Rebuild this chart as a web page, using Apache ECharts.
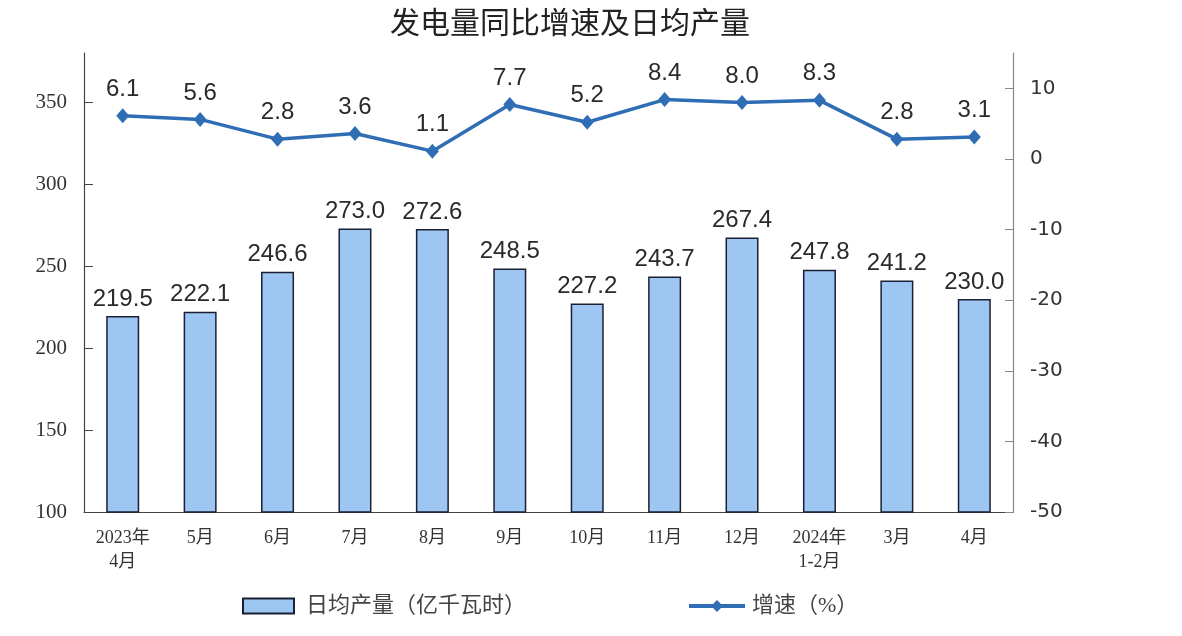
<!DOCTYPE html>
<html>
<head>
<meta charset="utf-8">
<script src="https://cdn.jsdelivr.net/npm/echarts@6/dist/echarts.min.js"></script>
<style>
html,body{margin:0;padding:0;background:#fff;}
#chart{width:1182px;height:636px;}
</style>
</head>
<body>
<div id="chart"></div>
<script>
const categories = ['2023年\n4月','5月','6月','7月','8月','9月','10月','11月','12月','2024年\n1-2月','3月','4月'];
const dailyOutput = [219.5, 222.1, 246.6, 273.0, 272.6, 248.5, 227.2, 243.7, 267.4, 247.8, 241.2, 230.0];
const growthRate = [6.1, 5.6, 2.8, 3.6, 1.1, 7.7, 5.2, 8.4, 8.0, 8.3, 2.8, 3.1];
const leftTicks = [100, 150, 200, 250, 300, 350];
const rightTicks = [-50, -40, -30, -20, -10, 0, 10];
const titleText = '发电量同比增速及日均产量';
const barName = '日均产量（亿千瓦时）';
const lineName = '增速（%）';

const serif = '"Liberation Serif", "Times New Roman", "Noto Sans CJK SC", serif';
const sans = '"Liberation Sans", Arial, "Noto Sans CJK SC", sans-serif';
const lineColor = '#2F6DB5';

const chart = echarts.init(document.getElementById('chart'));
chart.setOption({
  backgroundColor: '#fff',
  animation: false,
  title: {
    text: titleText,
    left: 565,
    textAlign: 'center',
    top: 2,
    textStyle: { fontFamily: '"Noto Sans CJK SC", serif', fontSize: 30, fontWeight: 'normal', color: '#222' }
  },
  legend: [
    {
      data: [{ name: barName, icon: 'rect' }],
      left: 242, top: 595, padding: 0,
      itemWidth: 51, itemHeight: 15,
      textStyle: { fontFamily: serif, fontSize: 22, color: '#444', padding: [0, 0, 0, 7] }
    },
    {
      data: [lineName],
      left: 687, top: 595, padding: 0,
      itemWidth: 56, itemHeight: 15,
      lineStyle: { width: 4 },
      textStyle: { fontFamily: serif, fontSize: 22, color: '#444', padding: [0, 0, 0, 2] }
    }
  ],
  grid: { left: 84, right: 169, top: 53, bottom: 124, containLabel: false },
  xAxis: {
    type: 'category',
    data: categories,
    boundaryGap: true,
    axisLine: { onZero: false, lineStyle: { color: '#444', width: 1.2 } },
    axisTick: { inside: true, length: 5, alignWithLabel: false, lineStyle: { color: '#444' } },
    axisLabel: { fontFamily: serif, fontSize: 18, color: '#333', margin: 14, lineHeight: 24, interval: 0 }
  },
  yAxis: [
    {
      type: 'value', min: 100, max: 380, interval: 50,
      splitLine: { show: false },
      axisLine: { show: true, lineStyle: { color: '#444', width: 1.2 } },
      axisTick: { show: true, inside: true, length: 9, customValues: leftTicks, lineStyle: { color: '#444' } },
      axisLabel: { customValues: leftTicks, fontFamily: serif, fontSize: 21, color: '#333', margin: 17 }
    },
    {
      type: 'value', min: -50, max: 15, interval: 10,
      splitLine: { show: false },
      axisLine: { show: true, lineStyle: { color: '#888', width: 1.2 } },
      axisTick: { show: true, inside: true, length: 8, customValues: rightTicks, lineStyle: { color: '#888' } },
      axisLabel: { customValues: rightTicks, fontFamily: '"DejaVu Sans", sans-serif', fontSize: 20, color: '#333', margin: 17 }
    }
  ],
  series: [
    {
      name: barName,
      type: 'bar',
      data: dailyOutput,
      barWidth: 33,
      yAxisIndex: 0,
      itemStyle: { color: '#9DC6F2', borderColor: '#1b1f33', borderWidth: 1.5 },
      label: {
        show: true, position: 'top', distance: 5,
        formatter: p => p.value.toFixed(1),
        fontFamily: sans, fontSize: 24, color: '#2a2a2a'
      }
    },
    {
      name: lineName,
      type: 'line',
      data: growthRate,
      yAxisIndex: 1,
      symbol: 'diamond',
      symbolSize: [13, 15],
      lineStyle: { color: lineColor, width: 3.5 },
      itemStyle: { color: lineColor },
      label: {
        show: true, position: 'top', distance: 7,
        formatter: p => p.value.toFixed(1),
        fontFamily: sans, fontSize: 24, color: '#2a2a2a'
      }
    }
  ]
});
</script>
</body>
</html>
